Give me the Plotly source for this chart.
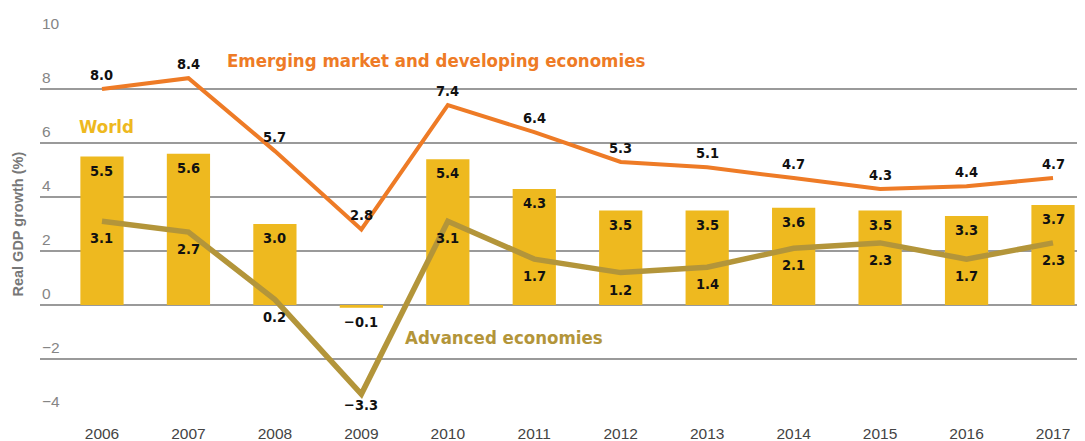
import plotly.graph_objects as go

# Real GDP growth (%), 2006-2017
years = ["2006", "2007", "2008", "2009", "2010", "2011",
         "2012", "2013", "2014", "2015", "2016", "2017"]
world = [5.5, 5.6, 3.0, -0.1, 5.4, 4.3, 3.5, 3.5, 3.6, 3.5, 3.3, 3.7]
emerging = [8.0, 8.4, 5.7, 2.8, 7.4, 6.4, 5.3, 5.1, 4.7, 4.3, 4.4, 4.7]
advanced = [3.1, 2.7, 0.2, -3.3, 3.1, 1.7, 1.2, 1.4, 2.1, 2.3, 1.7, 2.3]
y_ticks = [-4, -2, 0, 2, 4, 6, 8, 10]

GOLD = "#EEB91F"
ORANGE = "#EE7B26"
OLIVE = "#B3953A"
NARROW = "DejaVu Sans Condensed, Liberation Sans Narrow, Arial Narrow, sans-serif"
PLAIN = "Liberation Sans, Arial, sans-serif"

xs = list(range(len(years)))


def fmt(v):
    return f"{v:.1f}".replace("-", "\u2212")


fig = go.Figure()
fig.add_trace(go.Bar(x=xs, y=world, marker_color=GOLD, width=0.5,
                     marker_line_width=0, hoverinfo="skip"))
fig.add_trace(go.Scatter(x=xs, y=advanced, mode="lines",
                         line=dict(color=OLIVE, width=5.5), hoverinfo="skip"))
fig.add_trace(go.Scatter(x=xs, y=emerging, mode="lines",
                         line=dict(color=ORANGE, width=4), hoverinfo="skip"))

anns = []
label_font = dict(family=NARROW, size=14.5, color="#111111")
for i in xs:
    anns.append(dict(x=i, y=world[i], text=fmt(world[i]), yshift=-14))
    anns.append(dict(x=i, y=emerging[i], text=fmt(emerging[i]), yshift=14))
    anns.append(dict(x=i, y=advanced[i], text=fmt(advanced[i]),
                     yshift=-11 if advanced[i] < -3 else -17))
for a in anns:
    a.update(xref="x", yref="y", showarrow=False, font=label_font,
             text="<b>" + a["text"] + "</b>")

# y tick labels sit above their gridlines
for t in y_ticks:
    anns.append(dict(xref="paper", yref="y", x=0, y=t, xanchor="left",
                     text=fmt(t).replace(".0", ""), showarrow=False, yshift=12,
                     font=dict(family=PLAIN, size=15.5, color="#858585")))

# series names
anns.append(dict(xref="x", yref="y", x=3.86, y=9.04, showarrow=False,
                 text="<b>Emerging market and developing economies</b>",
                 font=dict(family=NARROW, size=18.5, color=ORANGE)))
anns.append(dict(xref="x", yref="y", x=0.05, y=6.6, showarrow=False,
                 text="<b>World</b>", font=dict(family=NARROW, size=18.5, color=GOLD)))
anns.append(dict(xref="x", yref="y", x=4.65, y=-1.19, showarrow=False,
                 text="<b>Advanced economies</b>",
                 font=dict(family=NARROW, size=18.5, color=OLIVE)))
anns.append(dict(xref="paper", yref="paper", x=-0.0215, y=0.5, xanchor="center",
                 showarrow=False, textangle=-90, text="<b>Real GDP growth (%)</b>",
                 font=dict(family=PLAIN, size=14.5, color="#777777")))

# the page body adds an 8px offset, so margins are trimmed to compensate
fig.update_layout(
    width=1085, height=441,
    margin=dict(l=32, r=8, t=27, b=36),
    plot_bgcolor="white", paper_bgcolor="white",
    showlegend=False,
    annotations=anns,
    xaxis=dict(tickvals=xs, ticktext=years, range=[-0.717, 11.37],
               showgrid=False, zeroline=False, showline=False, ticks="",
               ticklabelstandoff=9,
               tickfont=dict(family=PLAIN, size=15.5, color="#444444")),
    yaxis=dict(range=[-4, 10], tickvals=y_ticks, showticklabels=False,
               showgrid=True, gridcolor="#9a9a9a", gridwidth=1.5,
               zeroline=True, zerolinecolor="#9a9a9a", zerolinewidth=1.5),
)

fig.write_html("out.html")
